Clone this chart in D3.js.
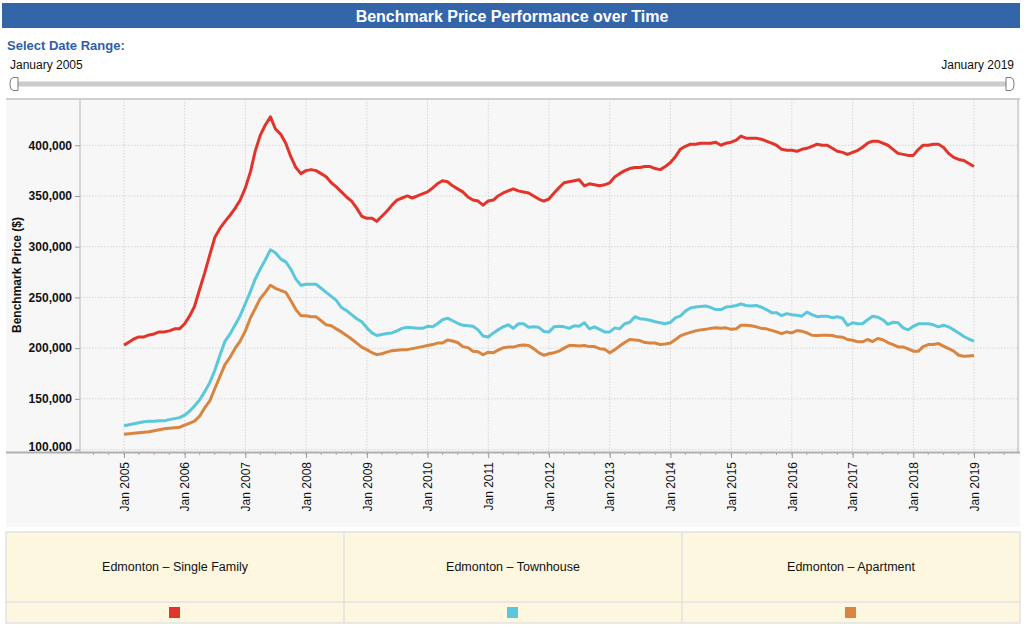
<!DOCTYPE html>
<html>
<head>
<meta charset="utf-8">
<script src="https://cdn.jsdelivr.net/npm/d3@7"></script>
<style>
  body { margin: 0; background: #fff; font-family: "Liberation Sans", Arial, Helvetica, sans-serif; }
  svg text { font-family: "Liberation Sans", Arial, Helvetica, sans-serif; }
</style>
</head>
<body>
<div id="vis"></div>
<script>
// Benchmark prices, in thousands of dollars, monthly from Jan 2005 to Jan 2019
const singleFamily = [
  203, 206, 209, 211, 211, 213, 214, 216, 216, 217, 219, 219,
  224, 232, 241, 258, 274, 292, 309, 318, 325, 331, 338, 346,
  358, 374, 394, 410, 420, 428, 416, 411, 402, 389, 378, 372,
  375, 376, 375, 372, 369, 363, 359, 354, 349, 345, 338, 330,
  328, 328, 325, 330, 335, 341, 346, 348, 350, 348, 350, 352,
  354, 358, 362, 365, 364, 360, 357, 354, 349, 346, 345, 341,
  345, 346, 350, 353, 355, 357, 355, 354, 353, 350, 347, 345,
  347, 353, 358, 363, 364, 365, 366, 360, 362, 361, 360, 361,
  363, 369, 372, 375, 377, 378, 378, 379, 379, 377, 376, 379,
  383, 389, 396, 399, 401, 401, 402, 402, 402, 403, 400, 402,
  403, 405, 409, 407, 407, 407, 406, 404, 402, 400, 396, 395,
  395, 394, 396, 397, 399, 401, 400, 400, 397, 394, 393, 391,
  393, 395, 398, 402, 404, 404, 402, 400, 396, 392, 391, 390,
  390, 396, 400, 400, 401, 401, 398, 392, 388, 386, 385, 382, 379
];
const townhouse = [
  123.5, 124.5, 125.5, 126.5, 127.5, 128, 128, 128.5, 128.5, 129.5, 130.5, 131.5,
  134, 138, 143, 149, 157, 166, 178, 193, 207, 214, 223, 232,
  244, 256, 268, 278, 287, 297, 294, 288, 285, 278, 268, 262,
  263, 263, 263, 259, 255, 251, 247, 240, 237, 233, 229, 226,
  220, 215, 212.5, 213.5, 214.5, 215, 217, 219.5, 220.5, 220, 219.5, 219.5,
  221.5, 221, 224, 228, 229.5, 227, 224.5, 222.5, 222, 221.5, 218, 212,
  211, 215, 218, 221, 223, 219.5, 224, 224, 220.5, 221, 220.5, 216.5,
  216, 221, 221.5, 221, 219.5, 222, 221.5, 225, 219, 221, 218.5, 216,
  216, 220, 219, 224, 225.5, 231, 229, 228.5, 227.5, 226, 225, 224,
  225.5, 230, 231.5, 236.5, 239.5, 240.5, 241, 241.5, 240, 238, 238, 240.5,
  241, 242, 243.5, 242, 241.5, 242, 240.5, 238, 235, 235, 232, 234,
  233, 232.5, 231.5, 235.5, 233, 231, 231.5, 231.5, 230, 231, 229.5, 222.5,
  225, 224, 224, 228, 231.5, 230.5, 228, 223.5, 225.5, 225, 220, 218,
  221.5, 224, 224, 224, 223, 221, 222.5, 221, 218, 215, 211.5, 209, 207
];
const apartment = [
  115, 115.5, 116, 116.5, 117, 117.5, 118.5, 119.5, 120.5, 121, 121.5, 122,
  124, 126, 128, 133, 141, 148, 160, 172, 184, 191, 200, 207,
  217, 230, 239, 249, 255, 262, 259, 257, 255, 247, 238, 232,
  232, 231, 231, 227, 223, 222, 219, 216, 212.5, 209, 205, 201,
  198.5, 195.5, 193.5, 194.5, 196, 197.5, 198, 198.5, 198.5, 199.5, 200.5, 201.5,
  202.5, 203.5, 205, 205, 208, 207, 205.5, 201.5, 200.5, 197, 196.5, 193.5,
  196, 195.5, 198, 200.3, 201, 201, 202.5, 203, 202.5, 199.5, 195.5, 193,
  194.5, 195.5, 197, 200, 202.5, 202.5, 202, 202.5, 201.5, 201.5, 199.5, 199,
  195.5, 198.5, 202, 205.5, 208.5, 208, 207.5, 205.5, 205, 205, 203.5, 204,
  205, 208.5, 212, 214, 215.5, 217, 218, 218.5, 219.5, 220, 219.5, 220,
  218.5, 219, 222.5, 222.5, 222, 221, 219.5, 219, 217.5, 216, 214.3, 216,
  215, 217.3, 216.7, 215, 212.7, 212.4, 212.7, 212.7, 212.4, 211.1, 210.8, 208.5,
  207.8, 206.2, 206.2, 208.5, 206.5, 209.5, 208.3, 205.5, 203.5, 201.2, 201.2, 199.3,
  197, 197, 201.5, 203.5, 203.5, 204.5, 202, 199.6, 197, 193, 192, 192.3, 192.7
];

const seriesNames = ["Edmonton \u2013 Single Family", "Edmonton \u2013 Townhouse", "Edmonton \u2013 Apartment"];
const seriesColors = ["#e2342a", "#5ac7db", "#d9843f"];
const yTicks = [100000, 150000, 200000, 250000, 300000, 350000, 400000];
const startLabel = "January 2005";
const endLabel = "January 2019";

const W = 1024, H = 631;
const plot = { left: 80, right: 1018, top: 99, bottom: 452 };

const svg = d3.select("#vis")
  .append("svg")
    .attr("width", W)
    .attr("height", H);

// title bar
svg.append("rect")
    .attr("x", 2).attr("y", 3)
    .attr("width", 1018).attr("height", 25)
    .attr("fill", "#3565a9");
svg.append("text")
    .attr("x", 512).attr("y", 21.5)
    .attr("text-anchor", "middle")
    .attr("fill", "#fff")
    .style("font-size", "16px")
    .style("font-weight", "bold")
    .text("Benchmark Price Performance over Time");

// date range slider
svg.append("text")
    .attr("x", 7).attr("y", 50)
    .attr("fill", "#2e5ea6")
    .style("font-size", "13px")
    .style("font-weight", "bold")
    .text("Select Date Range:");
svg.append("text")
    .attr("x", 10).attr("y", 69)
    .attr("fill", "#111")
    .style("font-size", "12px")
    .text(startLabel);
svg.append("text")
    .attr("x", 1014).attr("y", 69)
    .attr("text-anchor", "end")
    .attr("fill", "#111")
    .style("font-size", "12px")
    .text(endLabel);
svg.append("line")
    .attr("x1", 16).attr("x2", 1008)
    .attr("y1", 84).attr("y2", 84)
    .attr("stroke", "#cccccc")
    .attr("stroke-width", 5);
svg.append("path")
    .attr("d", "M18,77.5 H14 Q10,77.5 10,84 Q10,90.5 14,90.5 H18 Z")
    .attr("fill", "#fff").attr("stroke", "#777").attr("stroke-width", 1);
svg.append("path")
    .attr("d", "M1006,77.5 H1010 Q1014,77.5 1014,84 Q1014,90.5 1010,90.5 H1006 Z")
    .attr("fill", "#fff").attr("stroke", "#777").attr("stroke-width", 1);

// chart panel
svg.append("rect")
    .attr("x", 6).attr("y", plot.top)
    .attr("width", 1014).attr("height", 428)
    .attr("fill", "#f7f7f7");
svg.append("line")
    .attr("x1", 6).attr("x2", 1020)
    .attr("y1", plot.top).attr("y2", plot.top)
    .attr("stroke", "#cfcfcf").attr("stroke-width", 2);

const startDate = new Date(2005, 0, 1);
const endDate = new Date(2019, 0, 1);
const dates = d3.timeMonth.range(startDate, d3.timeMonth.offset(endDate, 1));

const x = d3.scaleTime()
    .domain([startDate, endDate])
    .range([124, 974]);

const y = d3.scaleLinear()
    .domain([97600, 445600])
    .range([plot.bottom, plot.top]);

// gridlines
const yearTicks = d3.timeYear.range(startDate, d3.timeYear.offset(endDate, 1));
svg.append("g")
  .selectAll("line")
  .data(yearTicks)
  .join("line")
    .attr("x1", d => x(d)).attr("x2", d => x(d))
    .attr("y1", plot.top).attr("y2", plot.bottom)
    .attr("stroke", "#d6d6d6")
    .attr("stroke-dasharray", "1.5,1.5");
svg.append("g")
  .selectAll("line")
  .data(yTicks)
  .join("line")
    .attr("x1", plot.left).attr("x2", plot.right)
    .attr("y1", d => y(d)).attr("y2", d => y(d))
    .attr("stroke", "#d6d6d6")
    .attr("stroke-dasharray", "1.5,1.5");

// y axis
const yAxis = svg.append("g")
    .attr("transform", `translate(${plot.left},0)`)
    .call(d3.axisLeft(y).tickValues(yTicks).tickSize(5).tickPadding(3).tickFormat(d3.format(",")));
yAxis.select(".domain").remove();
yAxis.selectAll(".tick line").attr("stroke", "#999");
yAxis.selectAll(".tick text")
    .attr("fill", "#111")
    .style("font-size", "12px")
    .style("font-weight", "bold")
    .attr("dy", d => d === yTicks[0] ? "0.05em" : "0.32em");

svg.append("text")
    .attr("transform", "translate(21,275) rotate(-90)")
    .attr("text-anchor", "middle")
    .attr("fill", "#111")
    .style("font-size", "12px")
    .style("font-weight", "bold")
    .text("Benchmark Price ($)");

// x axis: quarterly minor ticks, yearly labels
const quarterTicks = d3.timeMonth.every(3).range(x.invert(plot.left), x.invert(plot.right));
svg.append("g")
  .selectAll("line")
  .data(quarterTicks)
  .join("line")
    .attr("x1", d => x(d)).attr("x2", d => x(d))
    .attr("y1", plot.bottom).attr("y2", plot.bottom + 3)
    .attr("stroke", "#aaa");

const xAxis = svg.append("g")
    .attr("transform", `translate(0,${plot.bottom})`)
    .call(d3.axisBottom(x).tickValues(yearTicks).tickSize(6).tickFormat(d3.timeFormat("Jan %Y")));
xAxis.select(".domain").remove();
xAxis.selectAll(".tick line").attr("stroke", "#999");
xAxis.selectAll(".tick text")
    .attr("fill", "#111")
    .style("font-size", "12px")
    .attr("text-anchor", "end")
    .attr("transform", "rotate(-90)")
    .attr("x", -10)
    .attr("y", 0)
    .attr("dy", "0.35em");

// plot frame
svg.append("line")
    .attr("x1", plot.left).attr("x2", plot.left)
    .attr("y1", plot.top).attr("y2", plot.bottom)
    .attr("stroke", "#b5b5b5").attr("stroke-width", 1);
svg.append("line")
    .attr("x1", plot.right).attr("x2", plot.right)
    .attr("y1", plot.top).attr("y2", plot.bottom)
    .attr("stroke", "#c8c8c8").attr("stroke-width", 1.5);
svg.append("line")
    .attr("x1", 6).attr("x2", 1020)
    .attr("y1", plot.bottom + 0.5).attr("y2", plot.bottom + 0.5)
    .attr("stroke", "#b0b0b0").attr("stroke-width", 2);

// lines
const series = [singleFamily, townhouse, apartment].map((vals, i) => ({
  name: seriesNames[i],
  color: seriesColors[i],
  values: vals.map((v, j) => ({ date: dates[j], value: v * 1000 }))
}));

const line = d3.line()
    .x(d => x(d.date))
    .y(d => y(d.value));

svg.append("g")
  .selectAll("path")
  .data(series)
  .join("path")
    .attr("fill", "none")
    .attr("stroke", d => d.color)
    .attr("stroke-width", 3)
    .attr("stroke-linejoin", "round")
    .attr("d", d => line(d.values));

// legend table
const legendTop = 532, legendMid = 602, legendBottom = 623;
const colX = d3.scaleBand()
    .domain(seriesNames)
    .range([6, 1020]);

svg.append("rect")
    .attr("x", 6).attr("y", legendTop)
    .attr("width", 1014).attr("height", legendBottom - legendTop)
    .attr("fill", "#fef7e0")
    .attr("stroke", "#e2e2e2")
    .attr("stroke-width", 1.5);
svg.append("line")
    .attr("x1", 6).attr("x2", 1020)
    .attr("y1", legendMid).attr("y2", legendMid)
    .attr("stroke", "#e2e2e2").attr("stroke-width", 1.5);

const cells = svg.append("g")
  .selectAll("g")
  .data(series)
  .join("g");

cells.filter((d, i) => i > 0)
  .append("line")
    .attr("x1", d => colX(d.name)).attr("x2", d => colX(d.name))
    .attr("y1", legendTop).attr("y2", legendBottom)
    .attr("stroke", "#e2e2e2").attr("stroke-width", 1.5);

cells.append("text")
    .attr("x", d => colX(d.name) + colX.bandwidth() / 2)
    .attr("y", 571)
    .attr("text-anchor", "middle")
    .attr("fill", "#111")
    .style("font-size", "12.5px")
    .text(d => d.name);

cells.append("rect")
    .attr("x", d => colX(d.name) + colX.bandwidth() / 2 - 6)
    .attr("y", 607)
    .attr("width", 11)
    .attr("height", 11)
    .attr("fill", d => d.color);
</script>
</body>
</html>
